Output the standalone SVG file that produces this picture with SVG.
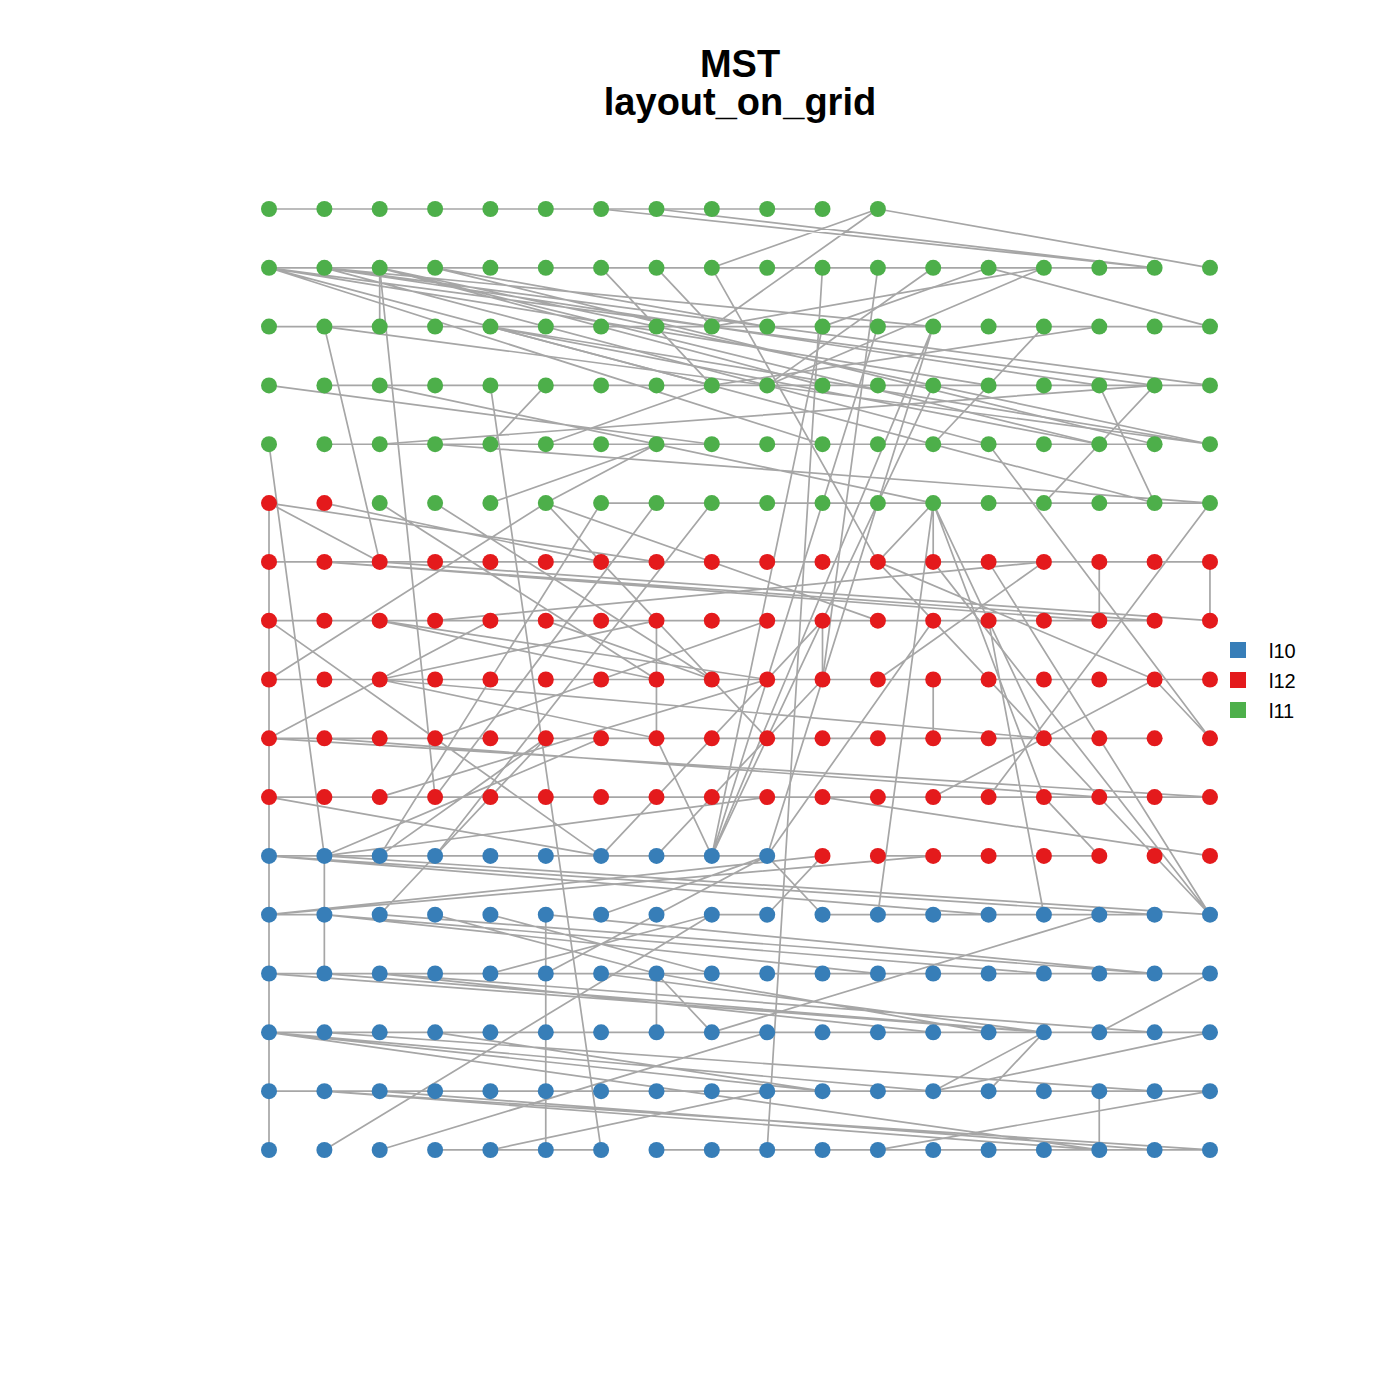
<svg xmlns="http://www.w3.org/2000/svg" width="1400" height="1400" viewBox="0 0 1400 1400">
<style>
.e path{fill:none;stroke:#A6A6A6;stroke-width:1.7;vector-effect:non-scaling-stroke}
.b circle{fill:#377EB8}
.r circle{fill:#E41A1C}
.g circle{fill:#4DAF4A}
circle{r:8}
.t{font-family:"Liberation Sans",Arial,sans-serif;font-weight:bold;font-size:38px;text-anchor:middle}
.l{font-family:"Liberation Sans",Arial,sans-serif;font-size:20px}
</style>
<rect width="1400" height="1400" fill="#fff"/>
<text class="t" x="740" y="77">MST</text>
<text class="t" x="740" y="115">layout_on_grid</text>
<g id="edges" class="e" transform="translate(269 209) scale(55.35 58.81)">
<path d="M0 0L10 0M0 1L16 1M0 2L17 2M1 3L17 3M1 4L16 4M6 5L17 5M0 6L17 6M0 7L16 7M0 8L17 8M0 9L16 9M0 10L17 10M0 11L9 11M11 11L15 11M0 12L1 12M8 12L9 12M10 12L16 12M0 13L17 13M0 14L17 14M0 15L17 15M3 16L6 16M7 16L17 16"/>
<path d="M0 5L0 16M1 11L1 13M5 12L5 16M7 13L7 14M7 7L7 9M10 7L10 8M12 8L12 9M15 6L15 7M15 15L15 16M17 6L17 7M2 1L2 2"/>
<path d="M6 0L16 1M7 0L16 1M11 0L17 1M11 0L8 1M11 0L8 2M2 1L3 10M1 2L2 6M0 1L8 3M0 1L10 4M0 1L13 3M0 1L16 3M1 1L15 3M1 1L17 3M1 1L12 2M1 1L13 4M2 1L17 4M2 1L15 4M2 1L10 3M3 1L9 2M3 1L16 4M6 1L7 2M7 1L8 2M8 1L11 6M10 1L9 16M11 1L10 8M12 1L9 3M13 1L17 2M14 1L8 2M14 1L9 3"/>
<path d="M1 2L17 4M4 2L15 4M4 2L17 4M4 2L16 5M7 2L8 3M10 2L13 1M12 2L9 11M12 2L8 11M14 2L12 4M15 2L8 3M0 3L8 4M2 3L12 5M4 3L6 16M16 3L15 4M15 3L16 5M5 3L4 4M0 4L1 11M2 4L16 3M3 4L17 5M5 4L8 3M13 4L17 9M15 4L14 5"/>
<path d="M4 5L7 4M5 5L7 4M0 5L2 6M0 5L7 6M1 5L6 6M2 5L7 8M3 5L8 8M5 5L0 8M5 5L11 7M5 5L7 7M5 5L9 9M6 5L2 11M7 5L3 10M8 5L3 11M12 5L11 12M12 5L12 6M12 5L14 9M12 5L14 10M12 5L11 6M17 5L13 10"/>
<path d="M0 7L3 9M2 7L9 8M2 7L7 8M3 7L14 6M5 7L8 8M1 6L15 7M1 6L16 7M2 6L17 7M0 9L4 7M0 9L17 10M2 8L7 9M2 8L14 9M2 8L7 7M3 9L9 7M3 9L6 11M0 10L6 11M1 9L15 10M2 10L9 8M0 11L13 12M0 11L16 12M1 11L9 10M1 11L6 9M1 11L17 12M2 11L5 9M8 11L10 2M8 11L11 2M8 11L12 3M8 11L7 9M7 11L10 8M6 11L10 7M9 11L12 7M11 6L17 12M12 6L17 12M13 6L17 12M13 7L14 12M11 6L16 8M14 6L11 8M16 8L17 9M16 8L12 10M14 10L15 11M10 10L17 11"/>
<path d="M0 12L12 11M0 12L10 11M1 12L11 13M1 12L14 13M2 12L5 9M3 12L7 13M4 12L8 13M6 12L9 11M7 12L9 11M9 12L10 11M10 12L9 11M2 13L12 14M2 13L16 14M4 13L8 12M5 13L7 12M0 14L12 15M0 14L10 15M1 14L16 15M3 14L10 15M1 16L8 12M2 16L9 14M4 16L9 15M1 15L17 16M2 15L16 16M7 13L8 14M7 13L13 14M8 14L15 12M15 14L17 13M12 15L14 14M13 15L14 14M12 15L17 14M11 16L17 15M0 13L14 14M1 13L14 14M6 13L14 14M0 14L15 16M1 15L15 16M2 12L16 13M5 12L16 13"/>
</g>
<g id="nodes">
<g id="n1" class="b"><circle cx="269" cy="1150"/></g><g id="n2" class="b"><circle cx="324.4" cy="1150"/></g><g id="n3" class="b"><circle cx="379.7" cy="1150"/></g><g id="n4" class="b"><circle cx="435.1" cy="1150"/></g><g id="n5" class="b"><circle cx="490.4" cy="1150"/></g><g id="n6" class="b"><circle cx="545.8" cy="1150"/></g><g id="n7" class="b"><circle cx="601.1" cy="1150"/></g><g id="n8" class="b"><circle cx="656.5" cy="1150"/></g><g id="n9" class="b"><circle cx="711.8" cy="1150"/></g><g id="n10" class="b"><circle cx="767.2" cy="1150"/></g><g id="n11" class="b"><circle cx="822.5" cy="1150"/></g><g id="n12" class="b"><circle cx="877.9" cy="1150"/></g><g id="n13" class="b"><circle cx="933.2" cy="1150"/></g><g id="n14" class="b"><circle cx="988.6" cy="1150"/></g><g id="n15" class="b"><circle cx="1043.9" cy="1150"/></g><g id="n16" class="b"><circle cx="1099.3" cy="1150"/></g><g id="n17" class="b"><circle cx="1154.6" cy="1150"/></g><g id="n18" class="b"><circle cx="1210" cy="1150"/></g>
<g id="n19" class="b"><circle cx="269" cy="1091.2"/></g><g id="n20" class="b"><circle cx="324.4" cy="1091.2"/></g><g id="n21" class="b"><circle cx="379.7" cy="1091.2"/></g><g id="n22" class="b"><circle cx="435.1" cy="1091.2"/></g><g id="n23" class="b"><circle cx="490.4" cy="1091.2"/></g><g id="n24" class="b"><circle cx="545.8" cy="1091.2"/></g><g id="n25" class="b"><circle cx="601.1" cy="1091.2"/></g><g id="n26" class="b"><circle cx="656.5" cy="1091.2"/></g><g id="n27" class="b"><circle cx="711.8" cy="1091.2"/></g><g id="n28" class="b"><circle cx="767.2" cy="1091.2"/></g><g id="n29" class="b"><circle cx="822.5" cy="1091.2"/></g><g id="n30" class="b"><circle cx="877.9" cy="1091.2"/></g><g id="n31" class="b"><circle cx="933.2" cy="1091.2"/></g><g id="n32" class="b"><circle cx="988.6" cy="1091.2"/></g><g id="n33" class="b"><circle cx="1043.9" cy="1091.2"/></g><g id="n34" class="b"><circle cx="1099.3" cy="1091.2"/></g><g id="n35" class="b"><circle cx="1154.6" cy="1091.2"/></g><g id="n36" class="b"><circle cx="1210" cy="1091.2"/></g>
<g id="n37" class="b"><circle cx="269" cy="1032.3"/></g><g id="n38" class="b"><circle cx="324.4" cy="1032.3"/></g><g id="n39" class="b"><circle cx="379.7" cy="1032.3"/></g><g id="n40" class="b"><circle cx="435.1" cy="1032.3"/></g><g id="n41" class="b"><circle cx="490.4" cy="1032.3"/></g><g id="n42" class="b"><circle cx="545.8" cy="1032.3"/></g><g id="n43" class="b"><circle cx="601.1" cy="1032.3"/></g><g id="n44" class="b"><circle cx="656.5" cy="1032.3"/></g><g id="n45" class="b"><circle cx="711.8" cy="1032.3"/></g><g id="n46" class="b"><circle cx="767.2" cy="1032.3"/></g><g id="n47" class="b"><circle cx="822.5" cy="1032.3"/></g><g id="n48" class="b"><circle cx="877.9" cy="1032.3"/></g><g id="n49" class="b"><circle cx="933.2" cy="1032.3"/></g><g id="n50" class="b"><circle cx="988.6" cy="1032.3"/></g><g id="n51" class="b"><circle cx="1043.9" cy="1032.3"/></g><g id="n52" class="b"><circle cx="1099.3" cy="1032.3"/></g><g id="n53" class="b"><circle cx="1154.6" cy="1032.3"/></g><g id="n54" class="b"><circle cx="1210" cy="1032.3"/></g>
<g id="n55" class="b"><circle cx="269" cy="973.5"/></g><g id="n56" class="b"><circle cx="324.4" cy="973.5"/></g><g id="n57" class="b"><circle cx="379.7" cy="973.5"/></g><g id="n58" class="b"><circle cx="435.1" cy="973.5"/></g><g id="n59" class="b"><circle cx="490.4" cy="973.5"/></g><g id="n60" class="b"><circle cx="545.8" cy="973.5"/></g><g id="n61" class="b"><circle cx="601.1" cy="973.5"/></g><g id="n62" class="b"><circle cx="656.5" cy="973.5"/></g><g id="n63" class="b"><circle cx="711.8" cy="973.5"/></g><g id="n64" class="b"><circle cx="767.2" cy="973.5"/></g><g id="n65" class="b"><circle cx="822.5" cy="973.5"/></g><g id="n66" class="b"><circle cx="877.9" cy="973.5"/></g><g id="n67" class="b"><circle cx="933.2" cy="973.5"/></g><g id="n68" class="b"><circle cx="988.6" cy="973.5"/></g><g id="n69" class="b"><circle cx="1043.9" cy="973.5"/></g><g id="n70" class="b"><circle cx="1099.3" cy="973.5"/></g><g id="n71" class="b"><circle cx="1154.6" cy="973.5"/></g><g id="n72" class="b"><circle cx="1210" cy="973.5"/></g>
<g id="n73" class="b"><circle cx="269" cy="914.7"/></g><g id="n74" class="b"><circle cx="324.4" cy="914.7"/></g><g id="n75" class="b"><circle cx="379.7" cy="914.7"/></g><g id="n76" class="b"><circle cx="435.1" cy="914.7"/></g><g id="n77" class="b"><circle cx="490.4" cy="914.7"/></g><g id="n78" class="b"><circle cx="545.8" cy="914.7"/></g><g id="n79" class="b"><circle cx="601.1" cy="914.7"/></g><g id="n80" class="b"><circle cx="656.5" cy="914.7"/></g><g id="n81" class="b"><circle cx="711.8" cy="914.7"/></g><g id="n82" class="b"><circle cx="767.2" cy="914.7"/></g><g id="n83" class="b"><circle cx="822.5" cy="914.7"/></g><g id="n84" class="b"><circle cx="877.9" cy="914.7"/></g><g id="n85" class="b"><circle cx="933.2" cy="914.7"/></g><g id="n86" class="b"><circle cx="988.6" cy="914.7"/></g><g id="n87" class="b"><circle cx="1043.9" cy="914.7"/></g><g id="n88" class="b"><circle cx="1099.3" cy="914.7"/></g><g id="n89" class="b"><circle cx="1154.6" cy="914.7"/></g><g id="n90" class="b"><circle cx="1210" cy="914.7"/></g>
<g id="n91" class="b"><circle cx="269" cy="855.9"/></g><g id="n92" class="b"><circle cx="324.4" cy="855.9"/></g><g id="n93" class="b"><circle cx="379.7" cy="855.9"/></g><g id="n94" class="b"><circle cx="435.1" cy="855.9"/></g><g id="n95" class="b"><circle cx="490.4" cy="855.9"/></g><g id="n96" class="b"><circle cx="545.8" cy="855.9"/></g><g id="n97" class="b"><circle cx="601.1" cy="855.9"/></g><g id="n98" class="b"><circle cx="656.5" cy="855.9"/></g><g id="n99" class="b"><circle cx="711.8" cy="855.9"/></g><g id="n100" class="b"><circle cx="767.2" cy="855.9"/></g><g id="n101" class="r"><circle cx="822.5" cy="855.9"/></g><g id="n102" class="r"><circle cx="877.9" cy="855.9"/></g><g id="n103" class="r"><circle cx="933.2" cy="855.9"/></g><g id="n104" class="r"><circle cx="988.6" cy="855.9"/></g><g id="n105" class="r"><circle cx="1043.9" cy="855.9"/></g><g id="n106" class="r"><circle cx="1099.3" cy="855.9"/></g><g id="n107" class="r"><circle cx="1154.6" cy="855.9"/></g><g id="n108" class="r"><circle cx="1210" cy="855.9"/></g>
<g id="n109" class="r"><circle cx="269" cy="797.1"/></g><g id="n110" class="r"><circle cx="324.4" cy="797.1"/></g><g id="n111" class="r"><circle cx="379.7" cy="797.1"/></g><g id="n112" class="r"><circle cx="435.1" cy="797.1"/></g><g id="n113" class="r"><circle cx="490.4" cy="797.1"/></g><g id="n114" class="r"><circle cx="545.8" cy="797.1"/></g><g id="n115" class="r"><circle cx="601.1" cy="797.1"/></g><g id="n116" class="r"><circle cx="656.5" cy="797.1"/></g><g id="n117" class="r"><circle cx="711.8" cy="797.1"/></g><g id="n118" class="r"><circle cx="767.2" cy="797.1"/></g><g id="n119" class="r"><circle cx="822.5" cy="797.1"/></g><g id="n120" class="r"><circle cx="877.9" cy="797.1"/></g><g id="n121" class="r"><circle cx="933.2" cy="797.1"/></g><g id="n122" class="r"><circle cx="988.6" cy="797.1"/></g><g id="n123" class="r"><circle cx="1043.9" cy="797.1"/></g><g id="n124" class="r"><circle cx="1099.3" cy="797.1"/></g><g id="n125" class="r"><circle cx="1154.6" cy="797.1"/></g><g id="n126" class="r"><circle cx="1210" cy="797.1"/></g>
<g id="n127" class="r"><circle cx="269" cy="738.3"/></g><g id="n128" class="r"><circle cx="324.4" cy="738.3"/></g><g id="n129" class="r"><circle cx="379.7" cy="738.3"/></g><g id="n130" class="r"><circle cx="435.1" cy="738.3"/></g><g id="n131" class="r"><circle cx="490.4" cy="738.3"/></g><g id="n132" class="r"><circle cx="545.8" cy="738.3"/></g><g id="n133" class="r"><circle cx="601.1" cy="738.3"/></g><g id="n134" class="r"><circle cx="656.5" cy="738.3"/></g><g id="n135" class="r"><circle cx="711.8" cy="738.3"/></g><g id="n136" class="r"><circle cx="767.2" cy="738.3"/></g><g id="n137" class="r"><circle cx="822.5" cy="738.3"/></g><g id="n138" class="r"><circle cx="877.9" cy="738.3"/></g><g id="n139" class="r"><circle cx="933.2" cy="738.3"/></g><g id="n140" class="r"><circle cx="988.6" cy="738.3"/></g><g id="n141" class="r"><circle cx="1043.9" cy="738.3"/></g><g id="n142" class="r"><circle cx="1099.3" cy="738.3"/></g><g id="n143" class="r"><circle cx="1154.6" cy="738.3"/></g><g id="n144" class="r"><circle cx="1210" cy="738.3"/></g>
<g id="n145" class="r"><circle cx="269" cy="679.5"/></g><g id="n146" class="r"><circle cx="324.4" cy="679.5"/></g><g id="n147" class="r"><circle cx="379.7" cy="679.5"/></g><g id="n148" class="r"><circle cx="435.1" cy="679.5"/></g><g id="n149" class="r"><circle cx="490.4" cy="679.5"/></g><g id="n150" class="r"><circle cx="545.8" cy="679.5"/></g><g id="n151" class="r"><circle cx="601.1" cy="679.5"/></g><g id="n152" class="r"><circle cx="656.5" cy="679.5"/></g><g id="n153" class="r"><circle cx="711.8" cy="679.5"/></g><g id="n154" class="r"><circle cx="767.2" cy="679.5"/></g><g id="n155" class="r"><circle cx="822.5" cy="679.5"/></g><g id="n156" class="r"><circle cx="877.9" cy="679.5"/></g><g id="n157" class="r"><circle cx="933.2" cy="679.5"/></g><g id="n158" class="r"><circle cx="988.6" cy="679.5"/></g><g id="n159" class="r"><circle cx="1043.9" cy="679.5"/></g><g id="n160" class="r"><circle cx="1099.3" cy="679.5"/></g><g id="n161" class="r"><circle cx="1154.6" cy="679.5"/></g><g id="n162" class="r"><circle cx="1210" cy="679.5"/></g>
<g id="n163" class="r"><circle cx="269" cy="620.7"/></g><g id="n164" class="r"><circle cx="324.4" cy="620.7"/></g><g id="n165" class="r"><circle cx="379.7" cy="620.7"/></g><g id="n166" class="r"><circle cx="435.1" cy="620.7"/></g><g id="n167" class="r"><circle cx="490.4" cy="620.7"/></g><g id="n168" class="r"><circle cx="545.8" cy="620.7"/></g><g id="n169" class="r"><circle cx="601.1" cy="620.7"/></g><g id="n170" class="r"><circle cx="656.5" cy="620.7"/></g><g id="n171" class="r"><circle cx="711.8" cy="620.7"/></g><g id="n172" class="r"><circle cx="767.2" cy="620.7"/></g><g id="n173" class="r"><circle cx="822.5" cy="620.7"/></g><g id="n174" class="r"><circle cx="877.9" cy="620.7"/></g><g id="n175" class="r"><circle cx="933.2" cy="620.7"/></g><g id="n176" class="r"><circle cx="988.6" cy="620.7"/></g><g id="n177" class="r"><circle cx="1043.9" cy="620.7"/></g><g id="n178" class="r"><circle cx="1099.3" cy="620.7"/></g><g id="n179" class="r"><circle cx="1154.6" cy="620.7"/></g><g id="n180" class="r"><circle cx="1210" cy="620.7"/></g>
<g id="n181" class="r"><circle cx="269" cy="561.9"/></g><g id="n182" class="r"><circle cx="324.4" cy="561.9"/></g><g id="n183" class="r"><circle cx="379.7" cy="561.9"/></g><g id="n184" class="r"><circle cx="435.1" cy="561.9"/></g><g id="n185" class="r"><circle cx="490.4" cy="561.9"/></g><g id="n186" class="r"><circle cx="545.8" cy="561.9"/></g><g id="n187" class="r"><circle cx="601.1" cy="561.9"/></g><g id="n188" class="r"><circle cx="656.5" cy="561.9"/></g><g id="n189" class="r"><circle cx="711.8" cy="561.9"/></g><g id="n190" class="r"><circle cx="767.2" cy="561.9"/></g><g id="n191" class="r"><circle cx="822.5" cy="561.9"/></g><g id="n192" class="r"><circle cx="877.9" cy="561.9"/></g><g id="n193" class="r"><circle cx="933.2" cy="561.9"/></g><g id="n194" class="r"><circle cx="988.6" cy="561.9"/></g><g id="n195" class="r"><circle cx="1043.9" cy="561.9"/></g><g id="n196" class="r"><circle cx="1099.3" cy="561.9"/></g><g id="n197" class="r"><circle cx="1154.6" cy="561.9"/></g><g id="n198" class="r"><circle cx="1210" cy="561.9"/></g>
<g id="n199" class="r"><circle cx="269" cy="503.1"/></g><g id="n200" class="r"><circle cx="324.4" cy="503.1"/></g><g id="n201" class="g"><circle cx="379.7" cy="503.1"/></g><g id="n202" class="g"><circle cx="435.1" cy="503.1"/></g><g id="n203" class="g"><circle cx="490.4" cy="503.1"/></g><g id="n204" class="g"><circle cx="545.8" cy="503.1"/></g><g id="n205" class="g"><circle cx="601.1" cy="503.1"/></g><g id="n206" class="g"><circle cx="656.5" cy="503.1"/></g><g id="n207" class="g"><circle cx="711.8" cy="503.1"/></g><g id="n208" class="g"><circle cx="767.2" cy="503.1"/></g><g id="n209" class="g"><circle cx="822.5" cy="503.1"/></g><g id="n210" class="g"><circle cx="877.9" cy="503.1"/></g><g id="n211" class="g"><circle cx="933.2" cy="503.1"/></g><g id="n212" class="g"><circle cx="988.6" cy="503.1"/></g><g id="n213" class="g"><circle cx="1043.9" cy="503.1"/></g><g id="n214" class="g"><circle cx="1099.3" cy="503.1"/></g><g id="n215" class="g"><circle cx="1154.6" cy="503.1"/></g><g id="n216" class="g"><circle cx="1210" cy="503.1"/></g>
<g id="n217" class="g"><circle cx="269" cy="444.2"/></g><g id="n218" class="g"><circle cx="324.4" cy="444.2"/></g><g id="n219" class="g"><circle cx="379.7" cy="444.2"/></g><g id="n220" class="g"><circle cx="435.1" cy="444.2"/></g><g id="n221" class="g"><circle cx="490.4" cy="444.2"/></g><g id="n222" class="g"><circle cx="545.8" cy="444.2"/></g><g id="n223" class="g"><circle cx="601.1" cy="444.2"/></g><g id="n224" class="g"><circle cx="656.5" cy="444.2"/></g><g id="n225" class="g"><circle cx="711.8" cy="444.2"/></g><g id="n226" class="g"><circle cx="767.2" cy="444.2"/></g><g id="n227" class="g"><circle cx="822.5" cy="444.2"/></g><g id="n228" class="g"><circle cx="877.9" cy="444.2"/></g><g id="n229" class="g"><circle cx="933.2" cy="444.2"/></g><g id="n230" class="g"><circle cx="988.6" cy="444.2"/></g><g id="n231" class="g"><circle cx="1043.9" cy="444.2"/></g><g id="n232" class="g"><circle cx="1099.3" cy="444.2"/></g><g id="n233" class="g"><circle cx="1154.6" cy="444.2"/></g><g id="n234" class="g"><circle cx="1210" cy="444.2"/></g>
<g id="n235" class="g"><circle cx="269" cy="385.4"/></g><g id="n236" class="g"><circle cx="324.4" cy="385.4"/></g><g id="n237" class="g"><circle cx="379.7" cy="385.4"/></g><g id="n238" class="g"><circle cx="435.1" cy="385.4"/></g><g id="n239" class="g"><circle cx="490.4" cy="385.4"/></g><g id="n240" class="g"><circle cx="545.8" cy="385.4"/></g><g id="n241" class="g"><circle cx="601.1" cy="385.4"/></g><g id="n242" class="g"><circle cx="656.5" cy="385.4"/></g><g id="n243" class="g"><circle cx="711.8" cy="385.4"/></g><g id="n244" class="g"><circle cx="767.2" cy="385.4"/></g><g id="n245" class="g"><circle cx="822.5" cy="385.4"/></g><g id="n246" class="g"><circle cx="877.9" cy="385.4"/></g><g id="n247" class="g"><circle cx="933.2" cy="385.4"/></g><g id="n248" class="g"><circle cx="988.6" cy="385.4"/></g><g id="n249" class="g"><circle cx="1043.9" cy="385.4"/></g><g id="n250" class="g"><circle cx="1099.3" cy="385.4"/></g><g id="n251" class="g"><circle cx="1154.6" cy="385.4"/></g><g id="n252" class="g"><circle cx="1210" cy="385.4"/></g>
<g id="n253" class="g"><circle cx="269" cy="326.6"/></g><g id="n254" class="g"><circle cx="324.4" cy="326.6"/></g><g id="n255" class="g"><circle cx="379.7" cy="326.6"/></g><g id="n256" class="g"><circle cx="435.1" cy="326.6"/></g><g id="n257" class="g"><circle cx="490.4" cy="326.6"/></g><g id="n258" class="g"><circle cx="545.8" cy="326.6"/></g><g id="n259" class="g"><circle cx="601.1" cy="326.6"/></g><g id="n260" class="g"><circle cx="656.5" cy="326.6"/></g><g id="n261" class="g"><circle cx="711.8" cy="326.6"/></g><g id="n262" class="g"><circle cx="767.2" cy="326.6"/></g><g id="n263" class="g"><circle cx="822.5" cy="326.6"/></g><g id="n264" class="g"><circle cx="877.9" cy="326.6"/></g><g id="n265" class="g"><circle cx="933.2" cy="326.6"/></g><g id="n266" class="g"><circle cx="988.6" cy="326.6"/></g><g id="n267" class="g"><circle cx="1043.9" cy="326.6"/></g><g id="n268" class="g"><circle cx="1099.3" cy="326.6"/></g><g id="n269" class="g"><circle cx="1154.6" cy="326.6"/></g><g id="n270" class="g"><circle cx="1210" cy="326.6"/></g>
<g id="n271" class="g"><circle cx="269" cy="267.8"/></g><g id="n272" class="g"><circle cx="324.4" cy="267.8"/></g><g id="n273" class="g"><circle cx="379.7" cy="267.8"/></g><g id="n274" class="g"><circle cx="435.1" cy="267.8"/></g><g id="n275" class="g"><circle cx="490.4" cy="267.8"/></g><g id="n276" class="g"><circle cx="545.8" cy="267.8"/></g><g id="n277" class="g"><circle cx="601.1" cy="267.8"/></g><g id="n278" class="g"><circle cx="656.5" cy="267.8"/></g><g id="n279" class="g"><circle cx="711.8" cy="267.8"/></g><g id="n280" class="g"><circle cx="767.2" cy="267.8"/></g><g id="n281" class="g"><circle cx="822.5" cy="267.8"/></g><g id="n282" class="g"><circle cx="877.9" cy="267.8"/></g><g id="n283" class="g"><circle cx="933.2" cy="267.8"/></g><g id="n284" class="g"><circle cx="988.6" cy="267.8"/></g><g id="n285" class="g"><circle cx="1043.9" cy="267.8"/></g><g id="n286" class="g"><circle cx="1099.3" cy="267.8"/></g><g id="n287" class="g"><circle cx="1154.6" cy="267.8"/></g><g id="n288" class="g"><circle cx="1210" cy="267.8"/></g>
<g id="n289" class="g"><circle cx="269" cy="209"/></g><g id="n290" class="g"><circle cx="324.4" cy="209"/></g><g id="n291" class="g"><circle cx="379.7" cy="209"/></g><g id="n292" class="g"><circle cx="435.1" cy="209"/></g><g id="n293" class="g"><circle cx="490.4" cy="209"/></g><g id="n294" class="g"><circle cx="545.8" cy="209"/></g><g id="n295" class="g"><circle cx="601.1" cy="209"/></g><g id="n296" class="g"><circle cx="656.5" cy="209"/></g><g id="n297" class="g"><circle cx="711.8" cy="209"/></g><g id="n298" class="g"><circle cx="767.2" cy="209"/></g><g id="n299" class="g"><circle cx="822.5" cy="209"/></g><g id="n300" class="g"><circle cx="877.9" cy="209"/></g>
</g>
<g id="legend">
<rect x="1230" y="642" width="16" height="16" fill="#377EB8"/>
<rect x="1230" y="672" width="16" height="16" fill="#E41A1C"/>
<rect x="1230" y="702" width="16" height="16" fill="#4DAF4A"/>
<text class="l" x="1269" y="658">l10</text>
<text class="l" x="1269" y="688">l12</text>
<text class="l" x="1269" y="718">l11</text>
</g>
</svg>
